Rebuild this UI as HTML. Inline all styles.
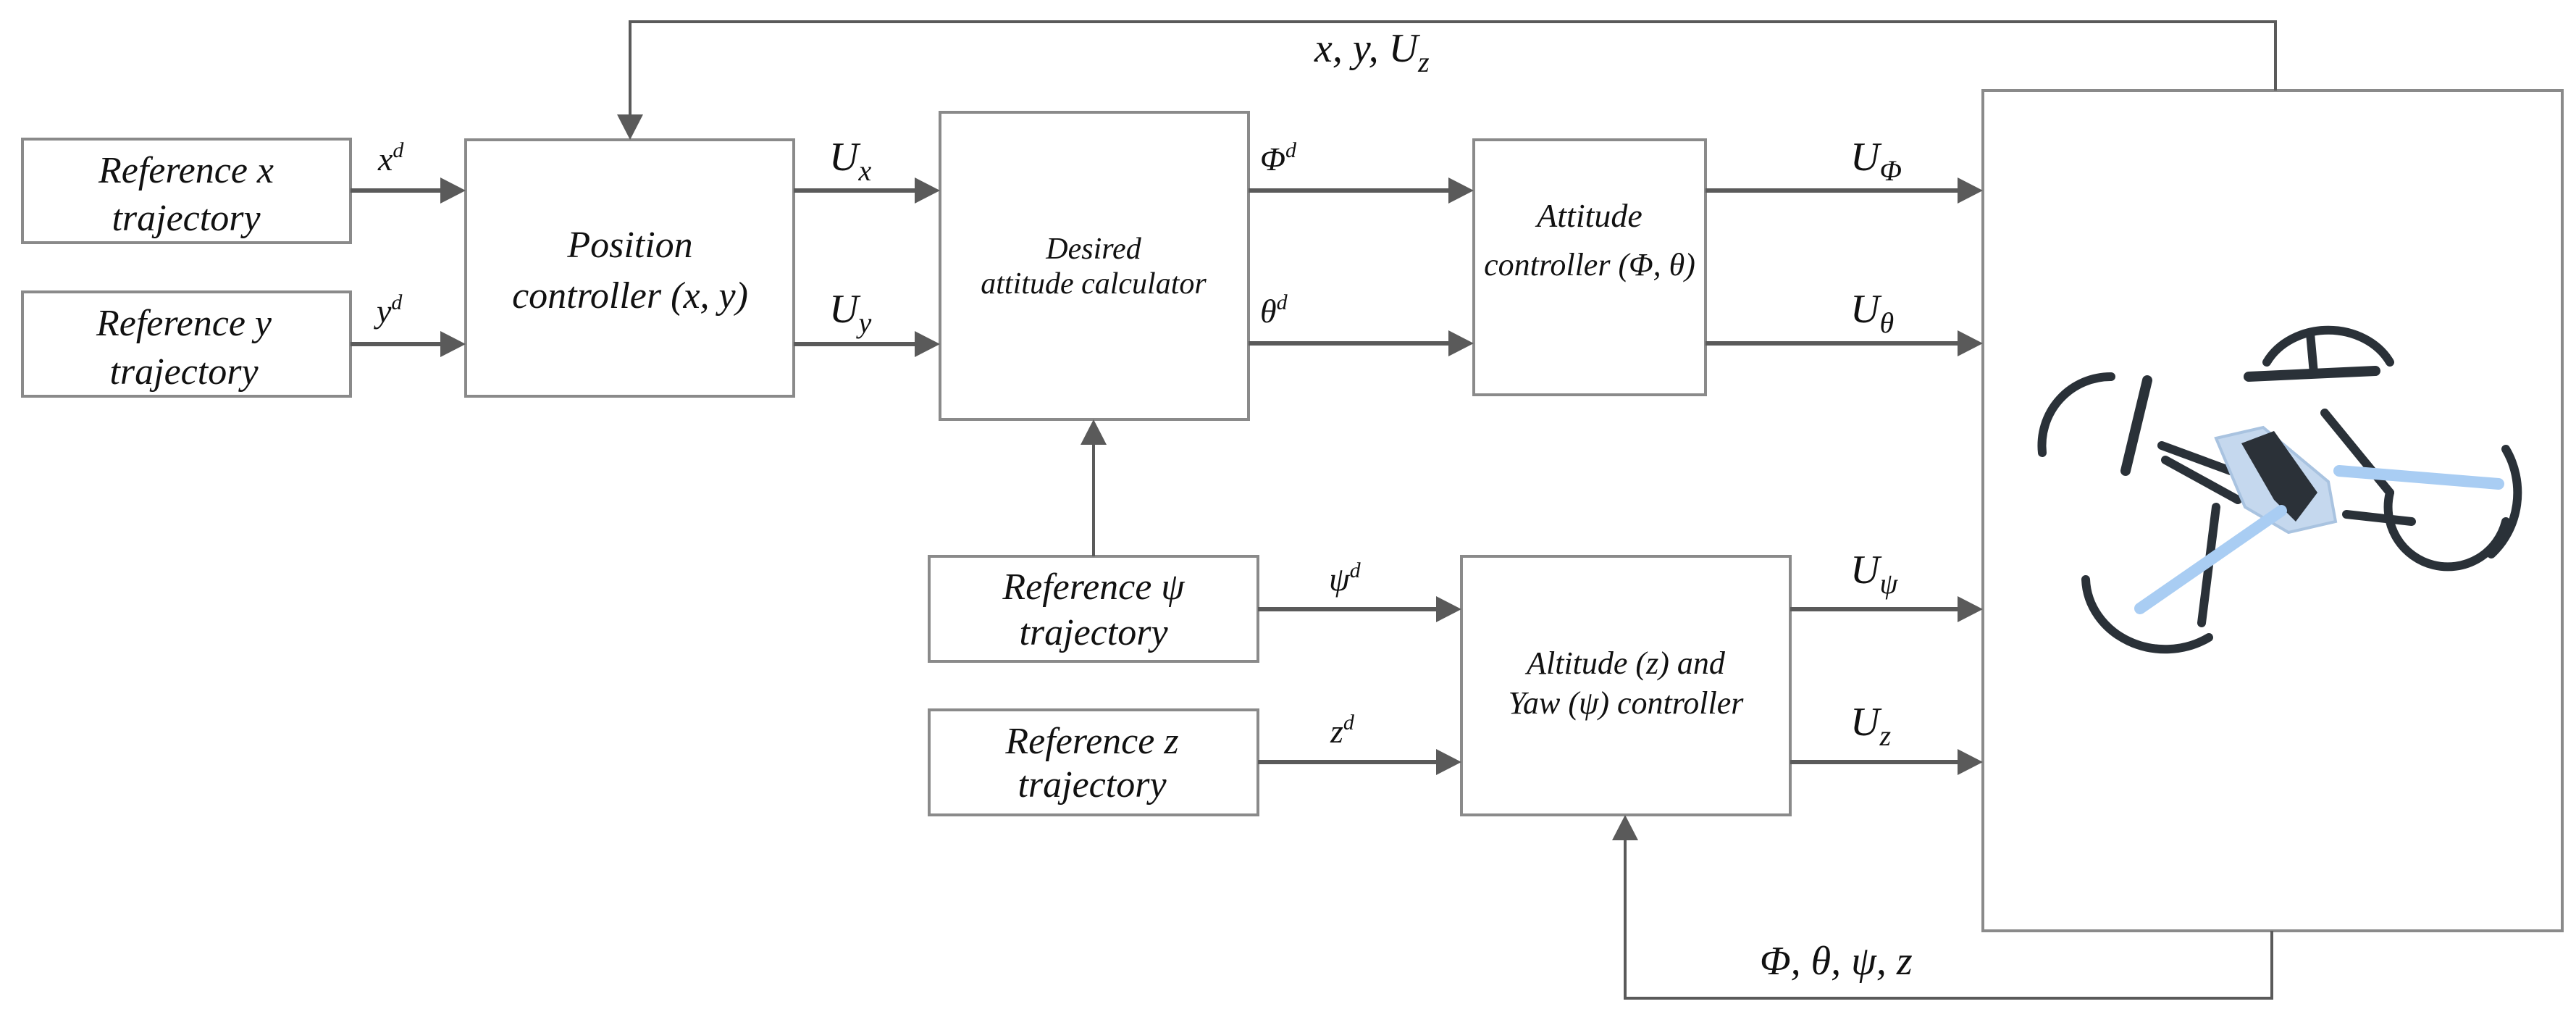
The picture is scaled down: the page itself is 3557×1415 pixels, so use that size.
<!DOCTYPE html>
<html><head><meta charset="utf-8"><style>
html,body{margin:0;padding:0;background:#fff}
svg{display:block}
text{font-family:"Liberation Serif",serif;font-style:italic;fill:#111}
</style></head><body>
<svg width="3557" height="1415" viewBox="0 0 3557 1415" xmlns="http://www.w3.org/2000/svg">
<g fill="#fff" stroke="#8a8a8a" stroke-width="4">
<rect x="31" y="192" width="453" height="143"/>
<rect x="31" y="403" width="453" height="144"/>
<rect x="643" y="193" width="453" height="354"/>
<rect x="1298" y="155" width="426" height="424"/>
<rect x="2035" y="193" width="320" height="352"/>
<rect x="2738" y="125" width="800" height="1160"/>
<rect x="1283" y="768" width="454" height="145"/>
<rect x="1283" y="980" width="454" height="145"/>
<rect x="2018" y="768" width="454" height="357"/>
</g>
<g stroke="#5a5a5a" stroke-width="6" fill="none">
<line x1="484" y1="263" x2="610" y2="263"/>
<line x1="484" y1="475" x2="610" y2="475"/>
<line x1="1096" y1="263" x2="1265" y2="263"/>
<line x1="1096" y1="475" x2="1265" y2="475"/>
<line x1="1724" y1="263" x2="2002" y2="263"/>
<line x1="1724" y1="474" x2="2002" y2="474"/>
<line x1="2355" y1="263" x2="2705" y2="263"/>
<line x1="2355" y1="474" x2="2705" y2="474"/>
<line x1="1737" y1="841" x2="1985" y2="841"/>
<line x1="1737" y1="1052" x2="1985" y2="1052"/>
<line x1="2472" y1="841" x2="2705" y2="841"/>
<line x1="2472" y1="1052" x2="2705" y2="1052"/>
</g>
<g fill="#5a5a5a">
<path d="M608,245 L643,263 L608,281z"/><path d="M608,457 L643,475 L608,493z"/>
<path d="M1263,245 L1298,263 L1263,281z"/><path d="M1263,457 L1298,475 L1263,493z"/>
<path d="M2000,245 L2035,263 L2000,281z"/><path d="M2000,456 L2035,474 L2000,492z"/>
<path d="M2703,245 L2738,263 L2703,281z"/><path d="M2703,456 L2738,474 L2703,492z"/>
<path d="M1983,823 L2018,841 L1983,859z"/><path d="M1983,1034 L2018,1052 L1983,1070z"/>
<path d="M2703,823 L2738,841 L2703,859z"/><path d="M2703,1034 L2738,1052 L2703,1070z"/>
<path d="M852,158 L870,193 L888,158z"/>
<path d="M1492,614 L1510,579 L1528,614z"/>
<path d="M2226,1160 L2244,1125 L2262,1160z"/>
</g>
<g stroke="#5a5a5a" stroke-width="4" fill="none">
<polyline points="3142,125 3142,30 870,30 870,160"/>
<line x1="1510" y1="768" x2="1510" y2="612"/>
<polyline points="3137,1285 3137,1378 2244,1378 2244,1158"/>
</g>
<g font-size="52" text-anchor="middle">
<text x="257" y="252">Reference x</text><text x="257" y="318">trajectory</text>
<text x="254" y="463">Reference y</text><text x="254" y="530">trajectory</text>
<text x="870" y="355">Position</text><text x="870" y="425">controller (x, y)</text>
<text x="1510" y="827">Reference ψ</text><text x="1510" y="890">trajectory</text>
<text x="1508" y="1040">Reference z</text><text x="1508" y="1100">trajectory</text>
<text x="2195" y="313" font-size="46">Attitude</text><text x="2195" y="380" font-size="44">controller (Φ, θ)</text>
<text x="2245" y="930" font-size="44">Altitude (z) and</text><text x="2245" y="985" font-size="44">Yaw (ψ) controller</text>
</g>
<g font-size="42" text-anchor="middle">
<text x="1510" y="357">Desired</text><text x="1510" y="405">attitude calculator</text>
</g>
<g font-size="46">
<text x="522" y="235">x<tspan font-size="30" dy="-18">d</tspan></text>
<text x="520" y="445">y<tspan font-size="30" dy="-18">d</tspan></text>
<text x="1740" y="235">Φ<tspan font-size="30" dy="-18">d</tspan></text>
<text x="1740" y="445">θ<tspan font-size="30" dy="-18">d</tspan></text>
<text x="1835" y="815">ψ<tspan font-size="30" dy="-18">d</tspan></text>
<text x="1837" y="1025">z<tspan font-size="30" dy="-18">d</tspan></text>
</g>
<g font-size="56">
<text x="1145" y="235">U<tspan font-size="40" dy="14">x</tspan></text>
<text x="1145" y="445">U<tspan font-size="40" dy="14">y</tspan></text>
<text x="2555" y="235">U<tspan font-size="40" dy="14">Φ</tspan></text>
<text x="2555" y="445">U<tspan font-size="40" dy="14">θ</tspan></text>
<text x="2555" y="805">U<tspan font-size="40" dy="14">ψ</tspan></text>
<text x="2555" y="1015">U<tspan font-size="40" dy="14">z</tspan></text>
<text x="1815" y="85">x, y, U<tspan font-size="40" dy="14">z</tspan></text>
<text x="2430" y="1345">Φ, θ, ψ, z</text>
</g>
<g stroke="#2a3138" stroke-width="12" fill="none" stroke-linecap="round">
<path d="M3130,500 A95,80 0 0 1 3300,500"/>
<line x1="3190" y1="460" x2="3195" y2="515"/>
<path d="M2820,625 A95,95 0 0 1 2915,520"/>
<path d="M3460,620 A100,110 0 0 1 3440,765"/>
<path d="M2880,800 A110,100 0 0 0 3050,880"/>
<line x1="2985" y1="615" x2="3080" y2="650"/>
<line x1="2990" y1="635" x2="3090" y2="690"/>
<line x1="3210" y1="570" x2="3300" y2="680"/>
<line x1="3240" y1="710" x2="3330" y2="720"/>
<line x1="3060" y1="700" x2="3040" y2="860"/>
<path d="M3300,680 A80,80 0 0 0 3460,720"/>
</g>
<g stroke="#2a3138" stroke-width="14" stroke-linecap="round">
<line x1="2965" y1="525" x2="2935" y2="650"/>
<line x1="3105" y1="520" x2="3280" y2="512"/>
</g>
<path d="M3060,605 L3125,590 L3215,665 L3225,720 L3160,735 L3100,700z" fill="#c5d8ee" stroke="#a9c3e0" stroke-width="4"/>
<path d="M3095,612 L3140,595 L3200,680 L3170,720 L3140,690z" fill="#2b3138"/>
<g stroke="#a9cdf3" stroke-width="16" stroke-linecap="round">
<line x1="2955" y1="840" x2="3150" y2="705"/>
<line x1="3230" y1="650" x2="3450" y2="668"/>
</g>
</svg>
</body></html>
